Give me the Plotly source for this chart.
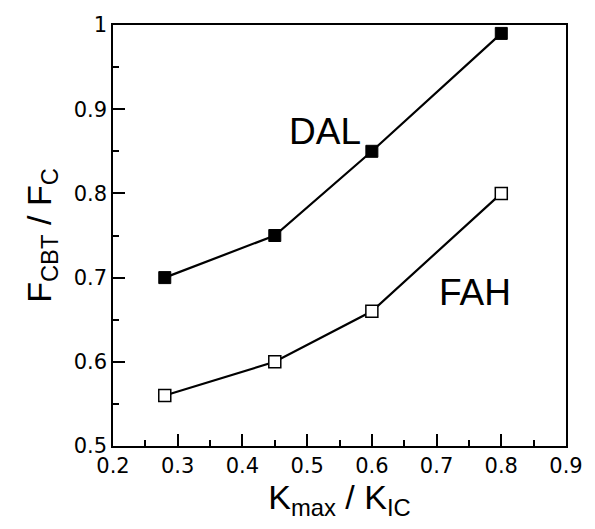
import plotly.graph_objects as go

# K_max / K_IC ratios tested
k_ratio = [0.28, 0.45, 0.60, 0.80]

# normalised crack-tip force F_CBT / F_C for each model
dal_values = [0.70, 0.75, 0.85, 0.99]
fah_values = [0.56, 0.60, 0.66, 0.80]

x_ticks = [0.2, 0.3, 0.4, 0.5, 0.6, 0.7, 0.8, 0.9]
y_ticks = [0.5, 0.6, 0.7, 0.8, 0.9, 1.0]
y_tick_text = ["0.5", "0.6", "0.7", "0.8", "0.9", "1"]

FONT = "Liberation Sans, Arial, Helvetica, sans-serif"
TICK_FONT = "DejaVu Sans, Liberation Sans, sans-serif"

fig = go.Figure()

fig.add_trace(go.Scatter(
    x=k_ratio, y=dal_values, name="DAL", mode="lines+markers",
    line=dict(color="black", width=2.2),
    marker=dict(symbol="square", size=12, color="black",
                line=dict(color="black", width=1)),
))
fig.add_trace(go.Scatter(
    x=k_ratio, y=fah_values, name="FAH", mode="lines+markers",
    line=dict(color="black", width=2.2),
    marker=dict(symbol="square", size=12, color="white",
                line=dict(color="black", width=1.5)),
))

fig.add_annotation(x=0.528, y=0.873, text="DAL", showarrow=False,
                   font=dict(family=FONT, size=37, color="black"),
                   xanchor="center", yanchor="middle")
fig.add_annotation(x=0.759, y=0.682, text="FAH", showarrow=False,
                   font=dict(family=FONT, size=37, color="black"),
                   xanchor="center", yanchor="middle")

axis_common = dict(
    showline=True, linecolor="black", linewidth=1.5, mirror=True,
    showgrid=False, zeroline=False,
    ticks="inside", ticklen=12, tickwidth=1.5, tickcolor="black",
    tickfont=dict(family=TICK_FONT, size=21, color="black"),
    ticklabeloverflow="allow",
    minor=dict(ticks="inside", ticklen=6, tickwidth=1.5, tickcolor="black"),
)

fig.update_xaxes(
    range=[0.2, 0.9], tickvals=x_ticks,
    ticktext=[f"{v:.1f}" for v in x_ticks],
    minor_dtick=0.05, minor_tick0=0.2,
    title=dict(text="K<sub>max</sub> / K<sub>IC</sub>",
               font=dict(family=FONT, size=34, color="black"), standoff=2),
    **axis_common,
)
fig.update_yaxes(
    range=[0.5, 1.0], tickvals=y_ticks, ticktext=y_tick_text,
    minor_dtick=0.05, minor_tick0=0.5,
    title=dict(text="F<sub>CBT</sub> / F<sub>C</sub>",
               font=dict(family=FONT, size=34, color="black"), standoff=12),
    **axis_common,
)

fig.update_layout(
    width=595, height=529,
    margin=dict(l=113, r=16, t=25, b=83),
    paper_bgcolor="white", plot_bgcolor="white",
    showlegend=False,
)

fig.write_html("out.html")
